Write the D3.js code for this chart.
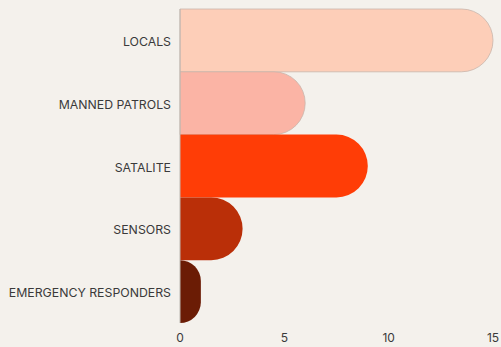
<!DOCTYPE html>
<html lang="en">
<head>
    <meta charset="UTF-8">
    <title>Bar chart</title>
    <script src="https://d3js.org/d3.v7.min.js"></script>
    <style>
        body { margin: 0; background: #f4f1ec; }
        svg { display: block; }
    </style>
</head>
<body>
    <script>
        // data
        const categories = ["LOCALS", "MANNED PATROLS", "SATALITE", "SENSORS", "EMERGENCY RESPONDERS"];
        const values = [15, 6, 9, 3, 1];
        const colors = ["#fdceb8", "#fbb4a5", "#ff3d06", "#ba2f08", "#6b1c05"];
        const xTicks = [0, 5, 10, 15];

        const width = 501, height = 347;
        const margin = { top: 9, right: 8, bottom: 24, left: 180 };
        const font = "Inter, sans-serif";

        const svg = d3.select("body").append("svg")
            .attr("width", width)
            .attr("height", height)
            .style("background", "#f4f1ec");

        const x = d3.scaleLinear()
            .domain([0, 15])
            .range([margin.left, width - margin.right]);

        const y = d3.scaleBand()
            .domain(categories)
            .range([margin.top, height - margin.bottom])
            .padding(0);

        // rounded right end; radius limited by bar length
        function barPath(d, i) {
            const x0 = x(0), x1 = x(values[i]);
            const y0 = y(d), h = y.bandwidth();
            const r = Math.min(h / 2, x1 - x0);
            return `M${x0},${y0}H${x1 - r}A${r},${r} 0 0 1 ${x1},${y0 + r}` +
                `V${y0 + h - r}A${r},${r} 0 0 1 ${x1 - r},${y0 + h}H${x0}Z`;
        }

        svg.append("g")
            .selectAll("path")
            .data(categories)
            .join("path")
            .attr("d", barPath)
            .attr("fill", (d, i) => colors[i])
            .attr("stroke", (d, i) => i < 2 ? "#c9b5ab" : "none")
            .attr("stroke-width", 0.8);

        // y axis line + labels
        svg.append("line")
            .attr("x1", x(0)).attr("x2", x(0))
            .attr("y1", margin.top).attr("y2", height - margin.bottom)
            .attr("stroke", "#bdb8b2")
            .attr("stroke-width", 1);

        svg.append("g")
            .selectAll("text")
            .data(categories)
            .join("text")
            .attr("x", x(0) - 9)
            .attr("y", d => y(d) + y.bandwidth() / 2)
            .attr("dy", "0.45em")
            .attr("text-anchor", "end")
            .attr("font-family", font)
            .attr("font-size", 12.3)
            .attr("fill", "#3a3a3a")
            .text(d => d);

        // x tick labels
        svg.append("g")
            .selectAll("text")
            .data(xTicks)
            .join("text")
            .attr("x", d => x(d))
            .attr("y", 337)
            .attr("dy", "0.4em")
            .attr("text-anchor", "middle")
            .attr("font-family", font)
            .attr("font-size", 12)
            .attr("fill", "#3a3a3a")
            .text(d => d);
    </script>
</body>
</html>
